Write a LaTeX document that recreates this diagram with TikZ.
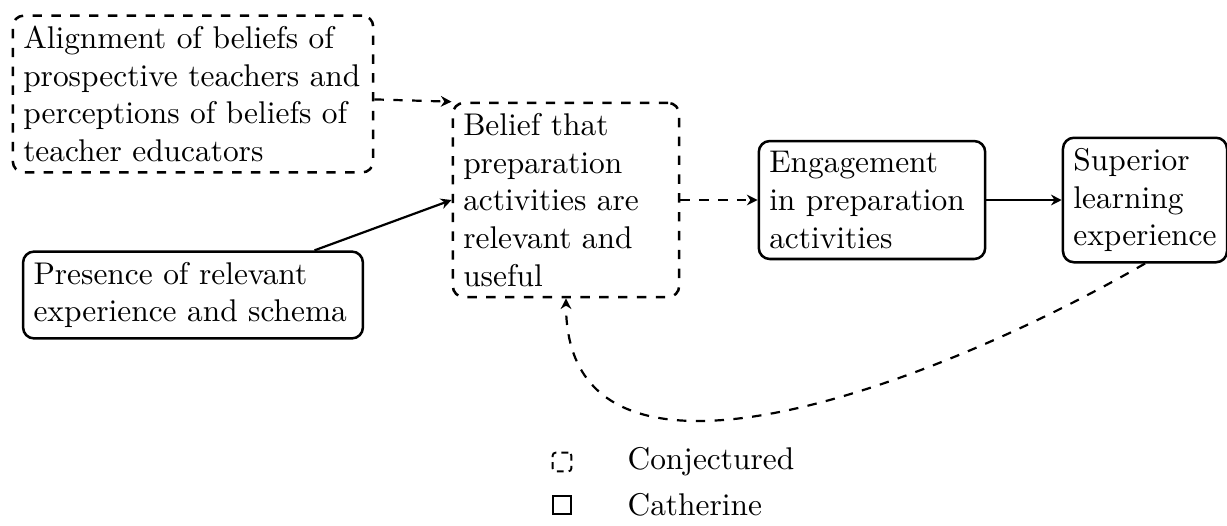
\documentclass[tikz,border=0pt]{standalone}
\usetikzlibrary{arrows.meta}
\begin{document}
\begin{tikzpicture}[x=0.3185pt,y=-0.3185pt,
  box/.style={draw,thick,rounded corners=3.5pt,align=left,
    font=\fontsize{10}{12}\selectfont},
  conj/.style={box,dashed},
  cath/.style={box},
  arr/.style={line width=0.7pt,-{Stealth[length=3.4pt,width=3.4pt]}},
  darr/.style={arr,dashed},
  legtxt/.style={anchor=west,font=\fontsize{10}{12}\selectfont,inner sep=0pt}]
\useasboundingbox (0,0) rectangle (1227,525);
\node[conj,text width=3.8cm] (align) at (193,94) {Alignment of beliefs of\\prospective teachers and\\perceptions of beliefs of\\teacher educators};
\node[conj,text width=2.3cm] (belief) at (566,200) {Belief that\\preparation\\activities are\\relevant and\\useful};
\node[cath,text width=2.3cm] (engage) at (872,200) {Engagement\\in preparation\\activities};
\node[cath] (superior) at (1145,200) {Superior\\learning\\experience};
\node[cath,text width=3.57cm] (presence) at (193,295) {Presence of relevant\\experience and schema};
\draw[darr] (align) -- (belief.north west);
\draw[arr] (presence) -- (belief.west);
\draw[darr] (belief) -- (engage);
\draw[arr] (engage) -- (superior);
\draw[darr] (superior.south) to[out=-150,in=-90,looseness=1.02] (belief.south);
% legend
\node[draw,semithick,dash pattern=on 2.2pt off 1.6pt,rounded corners=1pt,minimum size=6pt,inner sep=0pt] (lconj) at (562,462) {};
\node[legtxt] (tconj) at (627,462) {Conjectured};
\node[draw,semithick,minimum size=6pt,inner sep=0pt] (lcath) at (562,505) {};
\node[legtxt] (tcath) at (627,505) {Catherine};
\end{tikzpicture}
\end{document}
